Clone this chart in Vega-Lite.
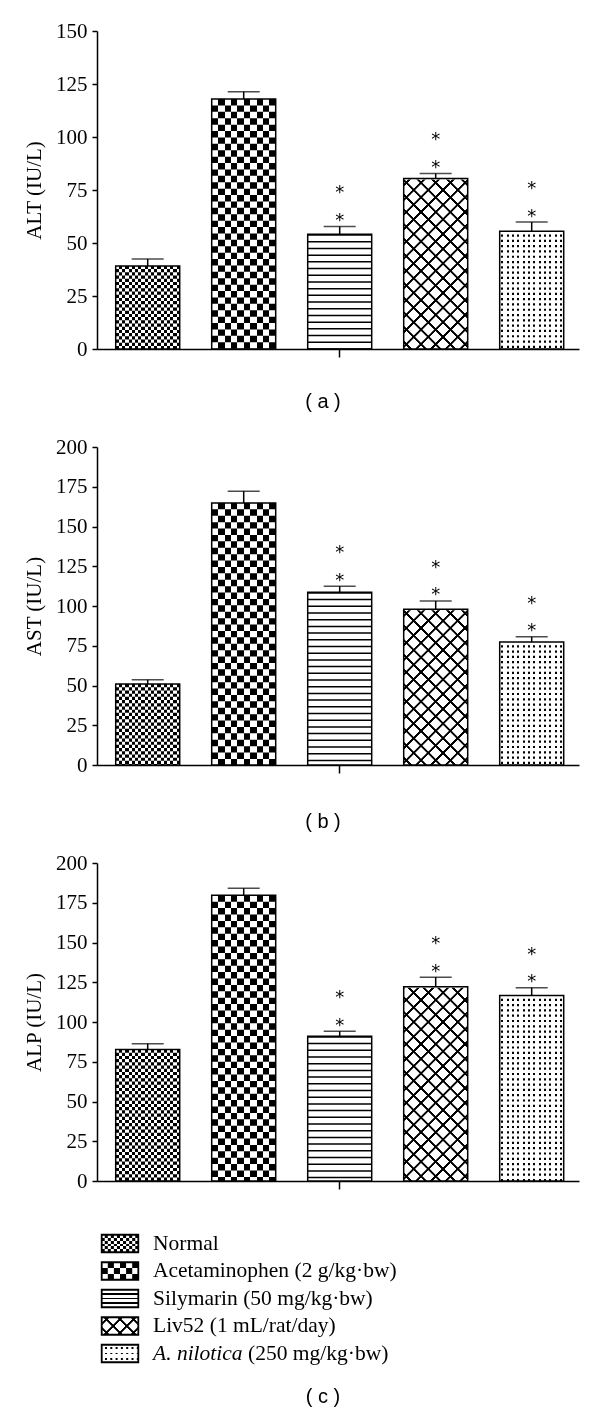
{
"$schema": "https://vega.github.io/schema/vega-lite/v6.json",
"background": "white",
"padding": {"left": 23, "top": 20, "right": 5, "bottom": 5},
"bounds": "flush",
"spacing": 98,
"params": [
{"name": "nv", "value": {"gradient": "linear", "x1": 0, "y1": 0, "x2": 1, "y2": 0, "stops": [
{"offset":0.05,"color":"#000"},{"offset":0.05,"color":"#fff"},{"offset":0.1,"color":"#fff"},{"offset":0.1,"color":"#000"},
{"offset":0.15,"color":"#000"},{"offset":0.15,"color":"#fff"},{"offset":0.2,"color":"#fff"},{"offset":0.2,"color":"#000"},
{"offset":0.25,"color":"#000"},{"offset":0.25,"color":"#fff"},{"offset":0.3,"color":"#fff"},{"offset":0.3,"color":"#000"},
{"offset":0.35,"color":"#000"},{"offset":0.35,"color":"#fff"},{"offset":0.4,"color":"#fff"},{"offset":0.4,"color":"#000"},
{"offset":0.45,"color":"#000"},{"offset":0.45,"color":"#fff"},{"offset":0.5,"color":"#fff"},{"offset":0.5,"color":"#000"},
{"offset":0.55,"color":"#000"},{"offset":0.55,"color":"#fff"},{"offset":0.6,"color":"#fff"},{"offset":0.6,"color":"#000"},
{"offset":0.65,"color":"#000"},{"offset":0.65,"color":"#fff"},{"offset":0.7,"color":"#fff"},{"offset":0.7,"color":"#000"},
{"offset":0.75,"color":"#000"},{"offset":0.75,"color":"#fff"},{"offset":0.8,"color":"#fff"},{"offset":0.8,"color":"#000"},
{"offset":0.85,"color":"#000"},{"offset":0.85,"color":"#fff"},{"offset":0.9,"color":"#fff"},{"offset":0.9,"color":"#000"},
{"offset":0.95,"color":"#000"},{"offset":0.95,"color":"#fff"}]}},
{"name": "av", "value": {"gradient": "linear", "x1": 0, "y1": 0, "x2": 1, "y2": 0, "stops": [
{"offset":0.1,"color":"#000"},{"offset":0.1,"color":"#fff"},{"offset":0.2,"color":"#fff"},{"offset":0.2,"color":"#000"},
{"offset":0.3,"color":"#000"},{"offset":0.3,"color":"#fff"},{"offset":0.4,"color":"#fff"},{"offset":0.4,"color":"#000"},
{"offset":0.5,"color":"#000"},{"offset":0.5,"color":"#fff"},{"offset":0.6,"color":"#fff"},{"offset":0.6,"color":"#000"},
{"offset":0.7,"color":"#000"},{"offset":0.7,"color":"#fff"},{"offset":0.8,"color":"#fff"},{"offset":0.8,"color":"#000"},
{"offset":0.9,"color":"#000"},{"offset":0.9,"color":"#fff"}]}},
{"name": "nlv", "value": {"gradient": "linear", "x1": 0, "y1": 0, "x2": 1, "y2": 0, "stops": [
{"offset":0.0247,"color":"#fff"},{"offset":0.0247,"color":"#000"},{"offset":0.0587,"color":"#000"},{"offset":0.0587,"color":"#fff"},
{"offset":0.108,"color":"#fff"},{"offset":0.108,"color":"#000"},{"offset":0.142,"color":"#000"},{"offset":0.142,"color":"#fff"},
{"offset":0.1913,"color":"#fff"},{"offset":0.1913,"color":"#000"},{"offset":0.2253,"color":"#000"},{"offset":0.2253,"color":"#fff"},
{"offset":0.2747,"color":"#fff"},{"offset":0.2747,"color":"#000"},{"offset":0.3087,"color":"#000"},{"offset":0.3087,"color":"#fff"},
{"offset":0.358,"color":"#fff"},{"offset":0.358,"color":"#000"},{"offset":0.392,"color":"#000"},{"offset":0.392,"color":"#fff"},
{"offset":0.4413,"color":"#fff"},{"offset":0.4413,"color":"#000"},{"offset":0.4753,"color":"#000"},{"offset":0.4753,"color":"#fff"},
{"offset":0.5247,"color":"#fff"},{"offset":0.5247,"color":"#000"},{"offset":0.5587,"color":"#000"},{"offset":0.5587,"color":"#fff"},
{"offset":0.608,"color":"#fff"},{"offset":0.608,"color":"#000"},{"offset":0.642,"color":"#000"},{"offset":0.642,"color":"#fff"},
{"offset":0.6913,"color":"#fff"},{"offset":0.6913,"color":"#000"},{"offset":0.7253,"color":"#000"},{"offset":0.7253,"color":"#fff"},
{"offset":0.7747,"color":"#fff"},{"offset":0.7747,"color":"#000"},{"offset":0.8087,"color":"#000"},{"offset":0.8087,"color":"#fff"},
{"offset":0.858,"color":"#fff"},{"offset":0.858,"color":"#000"},{"offset":0.892,"color":"#000"},{"offset":0.892,"color":"#fff"},
{"offset":0.9413,"color":"#fff"},{"offset":0.9413,"color":"#000"},{"offset":0.9753,"color":"#000"},{"offset":0.9753,"color":"#fff"}]}},
{"name": "lv1", "value": {"gradient": "linear", "x1": 0, "y1": 0, "x2": 0.2324, "y2": 1.1545, "stops": [
{"offset":0.0147,"color":"#fff"},{"offset":0.0164,"color":"#000"},{"offset":0.0220,"color":"#000"},{"offset":0.0237,"color":"#fff"},
{"offset":0.0532,"color":"#fff"},{"offset":0.0549,"color":"#000"},{"offset":0.0605,"color":"#000"},{"offset":0.0622,"color":"#fff"},
{"offset":0.0917,"color":"#fff"},{"offset":0.0934,"color":"#000"},{"offset":0.0990,"color":"#000"},{"offset":0.1007,"color":"#fff"},
{"offset":0.1301,"color":"#fff"},{"offset":0.1318,"color":"#000"},{"offset":0.1374,"color":"#000"},{"offset":0.1391,"color":"#fff"},
{"offset":0.1686,"color":"#fff"},{"offset":0.1703,"color":"#000"},{"offset":0.1759,"color":"#000"},{"offset":0.1776,"color":"#fff"},
{"offset":0.2070,"color":"#fff"},{"offset":0.2087,"color":"#000"},{"offset":0.2143,"color":"#000"},{"offset":0.2160,"color":"#fff"},
{"offset":0.2455,"color":"#fff"},{"offset":0.2472,"color":"#000"},{"offset":0.2528,"color":"#000"},{"offset":0.2545,"color":"#fff"},
{"offset":0.2840,"color":"#fff"},{"offset":0.2857,"color":"#000"},{"offset":0.2913,"color":"#000"},{"offset":0.2930,"color":"#fff"},
{"offset":0.3224,"color":"#fff"},{"offset":0.3241,"color":"#000"},{"offset":0.3297,"color":"#000"},{"offset":0.3314,"color":"#fff"},
{"offset":0.3609,"color":"#fff"},{"offset":0.3626,"color":"#000"},{"offset":0.3682,"color":"#000"},{"offset":0.3699,"color":"#fff"},
{"offset":0.3993,"color":"#fff"},{"offset":0.4010,"color":"#000"},{"offset":0.4066,"color":"#000"},{"offset":0.4083,"color":"#fff"},
{"offset":0.4378,"color":"#fff"},{"offset":0.4395,"color":"#000"},{"offset":0.4451,"color":"#000"},{"offset":0.4468,"color":"#fff"},
{"offset":0.4763,"color":"#fff"},{"offset":0.4780,"color":"#000"},{"offset":0.4836,"color":"#000"},{"offset":0.4853,"color":"#fff"},
{"offset":0.5147,"color":"#fff"},{"offset":0.5164,"color":"#000"},{"offset":0.5220,"color":"#000"},{"offset":0.5237,"color":"#fff"},
{"offset":0.5532,"color":"#fff"},{"offset":0.5549,"color":"#000"},{"offset":0.5605,"color":"#000"},{"offset":0.5622,"color":"#fff"},
{"offset":0.5917,"color":"#fff"},{"offset":0.5934,"color":"#000"},{"offset":0.5990,"color":"#000"},{"offset":0.6007,"color":"#fff"},
{"offset":0.6301,"color":"#fff"},{"offset":0.6318,"color":"#000"},{"offset":0.6374,"color":"#000"},{"offset":0.6391,"color":"#fff"},
{"offset":0.6686,"color":"#fff"},{"offset":0.6703,"color":"#000"},{"offset":0.6759,"color":"#000"},{"offset":0.6776,"color":"#fff"},
{"offset":0.7070,"color":"#fff"},{"offset":0.7087,"color":"#000"},{"offset":0.7143,"color":"#000"},{"offset":0.7160,"color":"#fff"},
{"offset":0.7455,"color":"#fff"},{"offset":0.7472,"color":"#000"},{"offset":0.7528,"color":"#000"},{"offset":0.7545,"color":"#fff"},
{"offset":0.7840,"color":"#fff"},{"offset":0.7857,"color":"#000"},{"offset":0.7913,"color":"#000"},{"offset":0.7930,"color":"#fff"},
{"offset":0.8224,"color":"#fff"},{"offset":0.8241,"color":"#000"},{"offset":0.8297,"color":"#000"},{"offset":0.8314,"color":"#fff"},
{"offset":0.8609,"color":"#fff"},{"offset":0.8626,"color":"#000"},{"offset":0.8682,"color":"#000"},{"offset":0.8699,"color":"#fff"},
{"offset":0.8993,"color":"#fff"},{"offset":0.9010,"color":"#000"},{"offset":0.9066,"color":"#000"},{"offset":0.9083,"color":"#fff"},
{"offset":0.9378,"color":"#fff"},{"offset":0.9395,"color":"#000"},{"offset":0.9451,"color":"#000"},{"offset":0.9468,"color":"#fff"},
{"offset":0.9763,"color":"#fff"},{"offset":0.9780,"color":"#000"},{"offset":0.9836,"color":"#000"},{"offset":0.9853,"color":"#fff"}]}},
{"name": "lv2", "value": {"gradient": "linear", "x1": 1, "y1": 0, "x2": 0.7676, "y2": 1.1545, "stops": [
{"offset":0.0147,"color":"#fff"},{"offset":0.0164,"color":"#000"},{"offset":0.0220,"color":"#000"},{"offset":0.0237,"color":"#fff"},
{"offset":0.0532,"color":"#fff"},{"offset":0.0549,"color":"#000"},{"offset":0.0605,"color":"#000"},{"offset":0.0622,"color":"#fff"},
{"offset":0.0917,"color":"#fff"},{"offset":0.0934,"color":"#000"},{"offset":0.0990,"color":"#000"},{"offset":0.1007,"color":"#fff"},
{"offset":0.1301,"color":"#fff"},{"offset":0.1318,"color":"#000"},{"offset":0.1374,"color":"#000"},{"offset":0.1391,"color":"#fff"},
{"offset":0.1686,"color":"#fff"},{"offset":0.1703,"color":"#000"},{"offset":0.1759,"color":"#000"},{"offset":0.1776,"color":"#fff"},
{"offset":0.2070,"color":"#fff"},{"offset":0.2087,"color":"#000"},{"offset":0.2143,"color":"#000"},{"offset":0.2160,"color":"#fff"},
{"offset":0.2455,"color":"#fff"},{"offset":0.2472,"color":"#000"},{"offset":0.2528,"color":"#000"},{"offset":0.2545,"color":"#fff"},
{"offset":0.2840,"color":"#fff"},{"offset":0.2857,"color":"#000"},{"offset":0.2913,"color":"#000"},{"offset":0.2930,"color":"#fff"},
{"offset":0.3224,"color":"#fff"},{"offset":0.3241,"color":"#000"},{"offset":0.3297,"color":"#000"},{"offset":0.3314,"color":"#fff"},
{"offset":0.3609,"color":"#fff"},{"offset":0.3626,"color":"#000"},{"offset":0.3682,"color":"#000"},{"offset":0.3699,"color":"#fff"},
{"offset":0.3993,"color":"#fff"},{"offset":0.4010,"color":"#000"},{"offset":0.4066,"color":"#000"},{"offset":0.4083,"color":"#fff"},
{"offset":0.4378,"color":"#fff"},{"offset":0.4395,"color":"#000"},{"offset":0.4451,"color":"#000"},{"offset":0.4468,"color":"#fff"},
{"offset":0.4763,"color":"#fff"},{"offset":0.4780,"color":"#000"},{"offset":0.4836,"color":"#000"},{"offset":0.4853,"color":"#fff"},
{"offset":0.5147,"color":"#fff"},{"offset":0.5164,"color":"#000"},{"offset":0.5220,"color":"#000"},{"offset":0.5237,"color":"#fff"},
{"offset":0.5532,"color":"#fff"},{"offset":0.5549,"color":"#000"},{"offset":0.5605,"color":"#000"},{"offset":0.5622,"color":"#fff"},
{"offset":0.5917,"color":"#fff"},{"offset":0.5934,"color":"#000"},{"offset":0.5990,"color":"#000"},{"offset":0.6007,"color":"#fff"},
{"offset":0.6301,"color":"#fff"},{"offset":0.6318,"color":"#000"},{"offset":0.6374,"color":"#000"},{"offset":0.6391,"color":"#fff"},
{"offset":0.6686,"color":"#fff"},{"offset":0.6703,"color":"#000"},{"offset":0.6759,"color":"#000"},{"offset":0.6776,"color":"#fff"},
{"offset":0.7070,"color":"#fff"},{"offset":0.7087,"color":"#000"},{"offset":0.7143,"color":"#000"},{"offset":0.7160,"color":"#fff"},
{"offset":0.7455,"color":"#fff"},{"offset":0.7472,"color":"#000"},{"offset":0.7528,"color":"#000"},{"offset":0.7545,"color":"#fff"},
{"offset":0.7840,"color":"#fff"},{"offset":0.7857,"color":"#000"},{"offset":0.7913,"color":"#000"},{"offset":0.7930,"color":"#fff"},
{"offset":0.8224,"color":"#fff"},{"offset":0.8241,"color":"#000"},{"offset":0.8297,"color":"#000"},{"offset":0.8314,"color":"#fff"},
{"offset":0.8609,"color":"#fff"},{"offset":0.8626,"color":"#000"},{"offset":0.8682,"color":"#000"},{"offset":0.8699,"color":"#fff"},
{"offset":0.8993,"color":"#fff"},{"offset":0.9010,"color":"#000"},{"offset":0.9066,"color":"#000"},{"offset":0.9083,"color":"#fff"},
{"offset":0.9378,"color":"#fff"},{"offset":0.9395,"color":"#000"},{"offset":0.9451,"color":"#000"},{"offset":0.9468,"color":"#fff"},
{"offset":0.9763,"color":"#fff"},{"offset":0.9780,"color":"#000"},{"offset":0.9836,"color":"#000"},{"offset":0.9853,"color":"#fff"}]}},
{"name": "lnv", "value": {"gradient": "linear", "x1": 0, "y1": 0, "x2": 0, "y2": 1, "stops": [
{"offset":0.1667,"color":"#000"},{"offset":0.1667,"color":"#fff"},{"offset":0.3333,"color":"#fff"},{"offset":0.3333,"color":"#000"},
{"offset":0.5,"color":"#000"},{"offset":0.5,"color":"#fff"},{"offset":0.6667,"color":"#fff"},{"offset":0.6667,"color":"#000"},
{"offset":0.8333,"color":"#000"},{"offset":0.8333,"color":"#fff"}]}},
{"name": "lav", "value": {"gradient": "linear", "x1": 0, "y1": 0, "x2": 0, "y2": 1, "stops": [
{"offset":0.3333,"color":"#000"},{"offset":0.3333,"color":"#fff"},{"offset":0.6667,"color":"#fff"},{"offset":0.6667,"color":"#000"}]}},
{"name": "lsv", "value": {"gradient": "linear", "x1": 0, "y1": 0, "x2": 0, "y2": 1, "stops": [
{"offset":0.207,"color":"#fff"},{"offset":0.207,"color":"#000"},{"offset":0.293,"color":"#000"},{"offset":0.293,"color":"#fff"},
{"offset":0.457,"color":"#fff"},{"offset":0.457,"color":"#000"},{"offset":0.543,"color":"#000"},{"offset":0.543,"color":"#fff"},
{"offset":0.707,"color":"#fff"},{"offset":0.707,"color":"#000"},{"offset":0.793,"color":"#000"},{"offset":0.793,"color":"#fff"}]}},
{"name": "ll1", "value": {"gradient": "linear", "x1": 0, "y1": 0, "x2": 1.203, "y2": 0.575, "stops": [
{"offset":0.093,"color":"#fff"},{"offset":0.105,"color":"#000"},{"offset":0.145,"color":"#000"},{"offset":0.157,"color":"#fff"},
{"offset":0.343,"color":"#fff"},{"offset":0.355,"color":"#000"},{"offset":0.395,"color":"#000"},{"offset":0.407,"color":"#fff"},
{"offset":0.593,"color":"#fff"},{"offset":0.605,"color":"#000"},{"offset":0.645,"color":"#000"},{"offset":0.657,"color":"#fff"},
{"offset":0.843,"color":"#fff"},{"offset":0.855,"color":"#000"},{"offset":0.895,"color":"#000"},{"offset":0.907,"color":"#fff"}]}},
{"name": "ll2", "value": {"gradient": "linear", "x1": 1, "y1": 0, "x2": -0.203, "y2": 0.575, "stops": [
{"offset":0.093,"color":"#fff"},{"offset":0.105,"color":"#000"},{"offset":0.145,"color":"#000"},{"offset":0.157,"color":"#fff"},
{"offset":0.343,"color":"#fff"},{"offset":0.355,"color":"#000"},{"offset":0.395,"color":"#000"},{"offset":0.407,"color":"#fff"},
{"offset":0.593,"color":"#fff"},{"offset":0.605,"color":"#000"},{"offset":0.645,"color":"#000"},{"offset":0.657,"color":"#fff"},
{"offset":0.843,"color":"#fff"},{"offset":0.855,"color":"#000"},{"offset":0.895,"color":"#000"},{"offset":0.907,"color":"#fff"}]}},
{"name": "lnl", "value": {"gradient": "linear", "x1": 0, "y1": 0, "x2": 0, "y2": 1, "stops": [
{"offset":0.110,"color":"#fff"},{"offset":0.110,"color":"#000"},{"offset":0.224,"color":"#000"},{"offset":0.224,"color":"#fff"},
{"offset":0.443,"color":"#fff"},{"offset":0.443,"color":"#000"},{"offset":0.557,"color":"#000"},{"offset":0.557,"color":"#fff"},
{"offset":0.776,"color":"#fff"},{"offset":0.776,"color":"#000"},{"offset":0.890,"color":"#000"},{"offset":0.890,"color":"#fff"}]}}
],
"datasets": {
"bars": [
{"panel":"a","group":"Normal","mean":39.2,"err":42.5,"sig":false},
{"panel":"a","group":"Acetaminophen","mean":117.9,"err":121.3,"sig":false},
{"panel":"a","group":"Silymarin","mean":54.1,"err":57.8,"sig":true},
{"panel":"a","group":"Liv52","mean":80.4,"err":82.8,"sig":true},
{"panel":"a","group":"A. nilotica","mean":55.5,"err":59.9,"sig":true},
{"panel":"b","group":"Normal","mean":50.9,"err":53.6,"sig":false},
{"panel":"b","group":"Acetaminophen","mean":164.8,"err":172.2,"sig":false},
{"panel":"b","group":"Silymarin","mean":108.7,"err":112.5,"sig":true},
{"panel":"b","group":"Liv52","mean":98.0,"err":103.2,"sig":true},
{"panel":"b","group":"A. nilotica","mean":77.3,"err":80.6,"sig":true},
{"panel":"c","group":"Normal","mean":82.7,"err":86.3,"sig":false},
{"panel":"c","group":"Acetaminophen","mean":179.7,"err":184.1,"sig":false},
{"panel":"c","group":"Silymarin","mean":91.1,"err":94.2,"sig":true},
{"panel":"c","group":"Liv52","mean":122.1,"err":128.2,"sig":true},
{"panel":"c","group":"A. nilotica","mean":116.6,"err":121.5,"sig":true}
],
"legend": [
{"group":"Normal","label":"Normal"},
{"group":"Acetaminophen","label":"Acetaminophen (2 g/kg·bw)"},
{"group":"Silymarin","label":"Silymarin (50 mg/kg·bw)"},
{"group":"Liv52","label":"Liv52 (1 mL/rat/day)"},
{"group":"A. nilotica","label":"(250 mg/kg·bw)"}
]
},
"vconcat": [
{
"width": 482, "height": 318,
"title": {"text": "( a )", "orient": "bottom", "anchor": "middle", "font": "Liberation Sans", "fontSize": 20, "fontWeight": "normal", "color": "#000", "offset": 11, "dx": -15},
"data": {"name": "bars"},
"transform": [{"filter": {"field": "panel", "equal": "a"}}],
"encoding": {
"x": {"field": "group", "type": "nominal", "scale": {"domain": ["Normal","Acetaminophen","Silymarin","Liv52","A. nilotica"], "paddingInner": 0.3333, "paddingOuter": 0.1771, "align": 0.55}, "axis": {"values": ["Silymarin"], "labels": false, "title": null}},
"y": {"field": "mean", "type": "quantitative", "scale": {"domain": [0,150], "nice": false}, "axis": {"title": "ALT (IU/L)", "values": [0,25,50,75,100,125,150]}}
},
"layer": [
{"transform": [{"filter": {"field": "group", "equal": "Normal"}}], "mark": {"type": "bar", "fill": {"expr": "nv"}}},
{"transform": [{"filter": {"field": "group", "equal": "Normal"}}], "mark": {"type": "rule", "stroke": "#fff", "strokeWidth": 64, "strokeDash": [3.2,3.2], "blend": "difference"}, "encoding": {"y2": {"datum": 0}}},
{"transform": [{"filter": {"field": "group", "equal": "Acetaminophen"}}], "mark": {"type": "bar", "fill": {"expr": "av"}}},
{"transform": [{"filter": {"field": "group", "equal": "Acetaminophen"}}], "mark": {"type": "rule", "stroke": "#fff", "strokeWidth": 64, "strokeDash": [6.4,6.4], "blend": "difference"}, "encoding": {"y2": {"datum": 0}}},
{"transform": [{"filter": {"field": "group", "equal": "Silymarin"}}], "mark": {"type": "bar", "fill": "#fff"}},
{"transform": [{"filter": {"field": "group", "equal": "Silymarin"}}], "mark": {"type": "rule", "stroke": "#000", "strokeWidth": 64, "strokeDash": [1.5,5.2]}, "encoding": {"y2": {"datum": 0}}},
{"transform": [{"filter": {"field": "group", "equal": "Liv52"}}], "mark": {"type": "bar", "fill": {"expr": "lv1"}}, "encoding": {"y": {"datum": 150, "type": "quantitative"}, "y2": {"datum": 0}}},
{"transform": [{"filter": {"field": "group", "equal": "Liv52"}}], "mark": {"type": "bar", "fill": {"expr": "lv2"}, "blend": "multiply"}, "encoding": {"y": {"datum": 150, "type": "quantitative"}, "y2": {"datum": 0}}},
{"transform": [{"filter": {"field": "group", "equal": "Liv52"}}], "mark": {"type": "bar", "fill": "#fff", "stroke": "#fff", "strokeWidth": 2}, "encoding": {"y2": {"datum": 150}}},
{"transform": [{"filter": {"field": "group", "equal": "A. nilotica"}}], "mark": {"type": "bar", "fill": {"expr": "nlv"}}},
{"transform": [{"filter": {"field": "group", "equal": "A. nilotica"}}], "mark": {"type": "rule", "stroke": "#fff", "strokeWidth": 64, "strokeDash": [3.1,2.2], "blend": "lighten"}, "encoding": {"y2": {"datum": 0}}},
{"mark": {"type": "bar", "fillOpacity": 0, "stroke": "#000", "strokeWidth": 1.5}},
{"mark": {"type": "rule", "color": "#000", "strokeWidth": 1.5}, "encoding": {"y2": {"field": "err"}}},
{"mark": {"type": "tick", "color": "#000", "size": 32, "thickness": 1.5}, "encoding": {"y": {"field": "err", "type": "quantitative"}}},
{"transform": [{"filter": {"field": "sig", "equal": true}}], "mark": {"type": "text", "text": "*", "font": "DejaVu Sans", "fontSize": 18, "baseline": "alphabetic", "dy": -0.5, "color": "#000"}, "encoding": {"y": {"field": "err", "type": "quantitative"}}},
{"transform": [{"filter": {"field": "sig", "equal": true}}], "mark": {"type": "text", "text": "*", "font": "DejaVu Sans", "fontSize": 18, "baseline": "alphabetic", "dy": -28, "color": "#000"}, "encoding": {"y": {"field": "err", "type": "quantitative"}}}
]
},
{
"width": 482, "height": 318,
"title": {"text": "( b )", "orient": "bottom", "anchor": "middle", "font": "Liberation Sans", "fontSize": 20, "fontWeight": "normal", "color": "#000", "offset": 15, "dx": -15},
"data": {"name": "bars"},
"transform": [{"filter": {"field": "panel", "equal": "b"}}],
"encoding": {
"x": {"field": "group", "type": "nominal", "scale": {"domain": ["Normal","Acetaminophen","Silymarin","Liv52","A. nilotica"], "paddingInner": 0.3333, "paddingOuter": 0.1771, "align": 0.55}, "axis": {"values": ["Silymarin"], "labels": false, "title": null}},
"y": {"field": "mean", "type": "quantitative", "scale": {"domain": [0,200], "nice": false}, "axis": {"title": "AST (IU/L)", "values": [0,25,50,75,100,125,150,175,200]}}
},
"layer": [
{"transform": [{"filter": {"field": "group", "equal": "Normal"}}], "mark": {"type": "bar", "fill": {"expr": "nv"}}},
{"transform": [{"filter": {"field": "group", "equal": "Normal"}}], "mark": {"type": "rule", "stroke": "#fff", "strokeWidth": 64, "strokeDash": [3.2,3.2], "blend": "difference"}, "encoding": {"y2": {"datum": 0}}},
{"transform": [{"filter": {"field": "group", "equal": "Acetaminophen"}}], "mark": {"type": "bar", "fill": {"expr": "av"}}},
{"transform": [{"filter": {"field": "group", "equal": "Acetaminophen"}}], "mark": {"type": "rule", "stroke": "#fff", "strokeWidth": 64, "strokeDash": [6.4,6.4], "blend": "difference"}, "encoding": {"y2": {"datum": 0}}},
{"transform": [{"filter": {"field": "group", "equal": "Silymarin"}}], "mark": {"type": "bar", "fill": "#fff"}},
{"transform": [{"filter": {"field": "group", "equal": "Silymarin"}}], "mark": {"type": "rule", "stroke": "#000", "strokeWidth": 64, "strokeDash": [1.5,5.2]}, "encoding": {"y2": {"datum": 0}}},
{"transform": [{"filter": {"field": "group", "equal": "Liv52"}}], "mark": {"type": "bar", "fill": {"expr": "lv1"}}, "encoding": {"y": {"datum": 200, "type": "quantitative"}, "y2": {"datum": 0}}},
{"transform": [{"filter": {"field": "group", "equal": "Liv52"}}], "mark": {"type": "bar", "fill": {"expr": "lv2"}, "blend": "multiply"}, "encoding": {"y": {"datum": 200, "type": "quantitative"}, "y2": {"datum": 0}}},
{"transform": [{"filter": {"field": "group", "equal": "Liv52"}}], "mark": {"type": "bar", "fill": "#fff", "stroke": "#fff", "strokeWidth": 2}, "encoding": {"y2": {"datum": 200}}},
{"transform": [{"filter": {"field": "group", "equal": "A. nilotica"}}], "mark": {"type": "bar", "fill": {"expr": "nlv"}}},
{"transform": [{"filter": {"field": "group", "equal": "A. nilotica"}}], "mark": {"type": "rule", "stroke": "#fff", "strokeWidth": 64, "strokeDash": [3.1,2.2], "blend": "lighten"}, "encoding": {"y2": {"datum": 0}}},
{"mark": {"type": "bar", "fillOpacity": 0, "stroke": "#000", "strokeWidth": 1.5}},
{"mark": {"type": "rule", "color": "#000", "strokeWidth": 1.5}, "encoding": {"y2": {"field": "err"}}},
{"mark": {"type": "tick", "color": "#000", "size": 32, "thickness": 1.5}, "encoding": {"y": {"field": "err", "type": "quantitative"}}},
{"transform": [{"filter": {"field": "sig", "equal": true}}], "mark": {"type": "text", "text": "*", "font": "DejaVu Sans", "fontSize": 18, "baseline": "alphabetic", "dy": -0.5, "color": "#000"}, "encoding": {"y": {"field": "err", "type": "quantitative"}}},
{"transform": [{"filter": {"field": "sig", "equal": true}}], "mark": {"type": "text", "text": "*", "font": "DejaVu Sans", "fontSize": 18, "baseline": "alphabetic", "dy": -28, "color": "#000"}, "encoding": {"y": {"field": "err", "type": "quantitative"}}}
]
},
{
"bounds": "flush",
"spacing": 48.75,
"vconcat": [
{
"width": 482, "height": 318,
"data": {"name": "bars"},
"transform": [{"filter": {"field": "panel", "equal": "c"}}],
"encoding": {
"x": {"field": "group", "type": "nominal", "scale": {"domain": ["Normal","Acetaminophen","Silymarin","Liv52","A. nilotica"], "paddingInner": 0.3333, "paddingOuter": 0.1771, "align": 0.55}, "axis": {"values": ["Silymarin"], "labels": false, "title": null}},
"y": {"field": "mean", "type": "quantitative", "scale": {"domain": [0,200], "nice": false}, "axis": {"title": "ALP (IU/L)", "values": [0,25,50,75,100,125,150,175,200]}}
},
"layer": [
{"transform": [{"filter": {"field": "group", "equal": "Normal"}}], "mark": {"type": "bar", "fill": {"expr": "nv"}}},
{"transform": [{"filter": {"field": "group", "equal": "Normal"}}], "mark": {"type": "rule", "stroke": "#fff", "strokeWidth": 64, "strokeDash": [3.2,3.2], "blend": "difference"}, "encoding": {"y2": {"datum": 0}}},
{"transform": [{"filter": {"field": "group", "equal": "Acetaminophen"}}], "mark": {"type": "bar", "fill": {"expr": "av"}}},
{"transform": [{"filter": {"field": "group", "equal": "Acetaminophen"}}], "mark": {"type": "rule", "stroke": "#fff", "strokeWidth": 64, "strokeDash": [6.4,6.4], "blend": "difference"}, "encoding": {"y2": {"datum": 0}}},
{"transform": [{"filter": {"field": "group", "equal": "Silymarin"}}], "mark": {"type": "bar", "fill": "#fff"}},
{"transform": [{"filter": {"field": "group", "equal": "Silymarin"}}], "mark": {"type": "rule", "stroke": "#000", "strokeWidth": 64, "strokeDash": [1.5,5.2]}, "encoding": {"y2": {"datum": 0}}},
{"transform": [{"filter": {"field": "group", "equal": "Liv52"}}], "mark": {"type": "bar", "fill": {"expr": "lv1"}}, "encoding": {"y": {"datum": 200, "type": "quantitative"}, "y2": {"datum": 0}}},
{"transform": [{"filter": {"field": "group", "equal": "Liv52"}}], "mark": {"type": "bar", "fill": {"expr": "lv2"}, "blend": "multiply"}, "encoding": {"y": {"datum": 200, "type": "quantitative"}, "y2": {"datum": 0}}},
{"transform": [{"filter": {"field": "group", "equal": "Liv52"}}], "mark": {"type": "bar", "fill": "#fff", "stroke": "#fff", "strokeWidth": 2}, "encoding": {"y2": {"datum": 200}}},
{"transform": [{"filter": {"field": "group", "equal": "A. nilotica"}}], "mark": {"type": "bar", "fill": {"expr": "nlv"}}},
{"transform": [{"filter": {"field": "group", "equal": "A. nilotica"}}], "mark": {"type": "rule", "stroke": "#fff", "strokeWidth": 64, "strokeDash": [3.1,2.2], "blend": "lighten"}, "encoding": {"y2": {"datum": 0}}},
{"mark": {"type": "bar", "fillOpacity": 0, "stroke": "#000", "strokeWidth": 1.5}},
{"mark": {"type": "rule", "color": "#000", "strokeWidth": 1.5}, "encoding": {"y2": {"field": "err"}}},
{"mark": {"type": "tick", "color": "#000", "size": 32, "thickness": 1.5}, "encoding": {"y": {"field": "err", "type": "quantitative"}}},
{"transform": [{"filter": {"field": "sig", "equal": true}}], "mark": {"type": "text", "text": "*", "font": "DejaVu Sans", "fontSize": 18, "baseline": "alphabetic", "dy": -0.5, "color": "#000"}, "encoding": {"y": {"field": "err", "type": "quantitative"}}},
{"transform": [{"filter": {"field": "sig", "equal": true}}], "mark": {"type": "text", "text": "*", "font": "DejaVu Sans", "fontSize": 18, "baseline": "alphabetic", "dy": -28, "color": "#000"}, "encoding": {"y": {"field": "err", "type": "quantitative"}}}
]
},
{
"width": 482, "height": 137.5,
"title": {"text": "( c )", "orient": "bottom", "anchor": "middle", "font": "Liberation Sans", "fontSize": 20, "fontWeight": "normal", "color": "#000", "offset": 20, "dx": -15},
"data": {"name": "legend"},
"encoding": {
"y": {"field": "group", "type": "nominal", "scale": {"domain": ["Normal","Acetaminophen","Silymarin","Liv52","A. nilotica"], "paddingInner": 0.364, "paddingOuter": 0.182}, "axis": null}
},
"layer": [
{"transform": [{"filter": {"field": "group", "equal": "Normal"}}], "mark": {"type": "bar", "fill": {"expr": "lnv"}}, "encoding": {"x": {"datum": 4.7, "type": "quantitative", "scale": {"domain": [0,482], "nice": false, "zero": false}, "axis": null}, "x2": {"datum": 41.3}}},
{"transform": [{"filter": {"field": "group", "equal": "Normal"}}], "mark": {"type": "rule", "stroke": "#fff", "strokeWidth": 17.5, "strokeDash": [3.05,3.05], "blend": "difference"}, "encoding": {"x": {"datum": 4.7, "type": "quantitative", "scale": {"domain": [0,482], "nice": false, "zero": false}, "axis": null}, "x2": {"datum": 41.3}}},
{"transform": [{"filter": {"field": "group", "equal": "Acetaminophen"}}], "mark": {"type": "bar", "fill": {"expr": "lav"}}, "encoding": {"x": {"datum": 4.7, "type": "quantitative", "scale": {"domain": [0,482], "nice": false, "zero": false}, "axis": null}, "x2": {"datum": 41.3}}},
{"transform": [{"filter": {"field": "group", "equal": "Acetaminophen"}}], "mark": {"type": "rule", "stroke": "#fff", "strokeWidth": 17.5, "strokeDash": [6.1,6.1], "blend": "difference"}, "encoding": {"x": {"datum": 4.7, "type": "quantitative", "scale": {"domain": [0,482], "nice": false, "zero": false}, "axis": null}, "x2": {"datum": 41.3}}},
{"transform": [{"filter": {"field": "group", "equal": "Silymarin"}}], "mark": {"type": "bar", "fill": {"expr": "lsv"}}, "encoding": {"x": {"datum": 4.7, "type": "quantitative", "scale": {"domain": [0,482], "nice": false, "zero": false}, "axis": null}, "x2": {"datum": 41.3}}},
{"transform": [{"filter": {"field": "group", "equal": "Liv52"}}], "mark": {"type": "bar", "fill": {"expr": "ll1"}}, "encoding": {"x": {"datum": 4.7, "type": "quantitative", "scale": {"domain": [0,482], "nice": false, "zero": false}, "axis": null}, "x2": {"datum": 41.3}}},
{"transform": [{"filter": {"field": "group", "equal": "Liv52"}}], "mark": {"type": "bar", "fill": {"expr": "ll2"}, "blend": "multiply"}, "encoding": {"x": {"datum": 4.7, "type": "quantitative", "scale": {"domain": [0,482], "nice": false, "zero": false}, "axis": null}, "x2": {"datum": 41.3}}},
{"transform": [{"filter": {"field": "group", "equal": "A. nilotica"}}], "mark": {"type": "bar", "fill": {"expr": "lnl"}}, "encoding": {"x": {"datum": 4.7, "type": "quantitative", "scale": {"domain": [0,482], "nice": false, "zero": false}, "axis": null}, "x2": {"datum": 41.3}}},
{"transform": [{"filter": {"field": "group", "equal": "A. nilotica"}}], "mark": {"type": "rule", "stroke": "#fff", "strokeWidth": 17.5, "strokeDash": [3.3,2.0], "blend": "lighten"}, "encoding": {"x": {"datum": 4.7, "type": "quantitative", "scale": {"domain": [0,482], "nice": false, "zero": false}, "axis": null}, "x2": {"datum": 41.3}}},
{"mark": {"type": "bar", "fillOpacity": 0, "stroke": "#000", "strokeWidth": 1.8}, "encoding": {"x": {"datum": 4.7, "type": "quantitative", "scale": {"domain": [0,482], "nice": false, "zero": false}, "axis": null}, "x2": {"datum": 41.3}}},
{"transform": [{"filter": "datum.group !== 'A. nilotica'"}], "mark": {"type": "text", "align": "left", "baseline": "middle", "font": "Liberation Serif", "fontSize": 21.5, "color": "#000"}, "encoding": {"x": {"datum": 56, "type": "quantitative", "scale": {"domain": [0,482], "nice": false, "zero": false}, "axis": null}, "text": {"field": "label"}}},
{"transform": [{"filter": {"field": "group", "equal": "A. nilotica"}}], "mark": {"type": "text", "align": "left", "baseline": "middle", "font": "Liberation Serif", "fontSize": 21.5, "fontStyle": "italic", "color": "#000"}, "encoding": {"x": {"datum": 56, "type": "quantitative", "scale": {"domain": [0,482], "nice": false, "zero": false}, "axis": null}, "text": {"field": "group"}}},
{"transform": [{"filter": {"field": "group", "equal": "A. nilotica"}}], "mark": {"type": "text", "align": "left", "baseline": "middle", "font": "Liberation Serif", "fontSize": 21.5, "dx": 95, "color": "#000"}, "encoding": {"x": {"datum": 56, "type": "quantitative", "scale": {"domain": [0,482], "nice": false, "zero": false}, "axis": null}, "text": {"field": "label"}}}
]
}
]
}
],
"config": {
"view": {"stroke": null},
"font": "Liberation Serif",
"axis": {"domainColor": "#000", "domainWidth": 1.5, "tickColor": "#000", "tickWidth": 1.5, "labelFont": "Liberation Serif", "labelFontSize": 21, "labelColor": "#000", "titleFont": "Liberation Serif", "titleFontSize": 21, "titleFontWeight": "normal", "titleColor": "#000", "grid": false, "labelOverlap": false},
"axisY": {"tickSize": 5, "labelPadding": 5, "titlePadding": 11},
"axisX": {"tickSize": 8}
}
}
